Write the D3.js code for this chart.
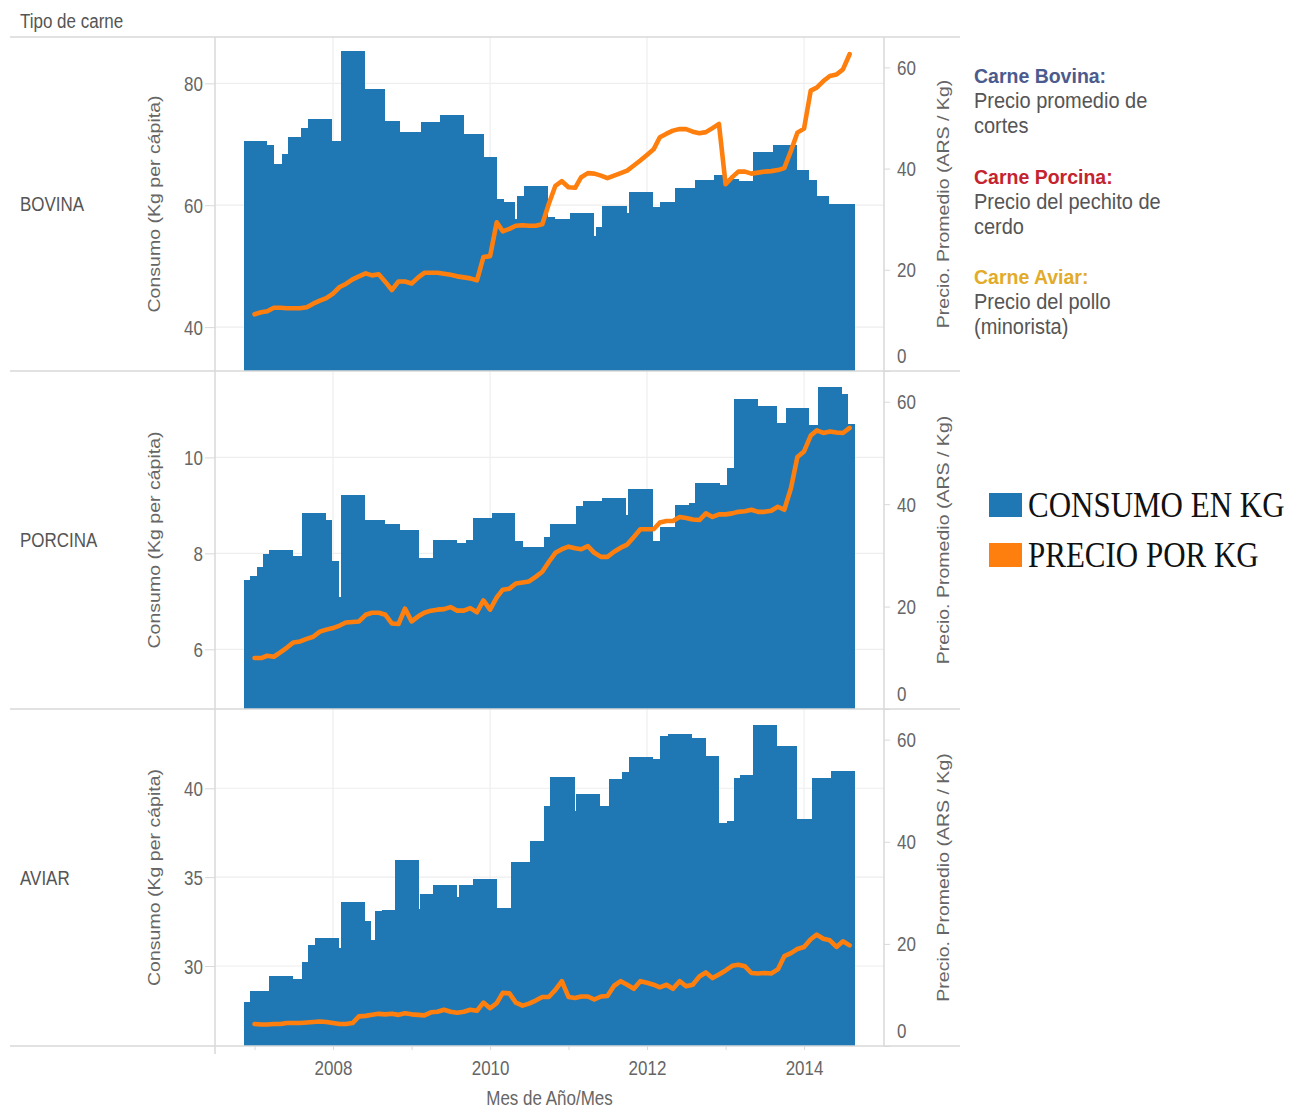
<!DOCTYPE html>
<html><head><meta charset="utf-8">
<script src="https://cdn.jsdelivr.net/npm/d3@7"></script>
<style>
body{margin:0;background:#fff}
text{font-family:"Liberation Sans",Arial,sans-serif}
text.serif{font-family:"Liberation Serif","Times New Roman",serif}
</style>
</head><body>
<svg id="c" width="1303" height="1108"></svg>
<script>
// ---------------- DATA ----------------
const categorias = ["BOVINA", "PORCINA", "AVIAR"];

// consumption (Kg per cápita): each bar starts at its date and lasts until the next one
const bovinaInicio = ["2006-11-11","2007-03-01","2007-04-03","2007-05-09","2007-06-08","2007-08-07","2007-09-09","2007-12-29","2008-02-08","2008-05-28","2008-08-29","2008-11-08","2009-02-12","2009-05-13","2009-09-03","2009-12-04","2010-02-02","2010-03-05","2010-04-29","2010-05-08","2010-06-09","2010-09-29","2010-11-01","2011-01-07","2011-04-28","2011-05-07","2011-06-06","2011-09-29","2011-10-08","2012-01-27","2012-03-03","2012-05-11","2012-08-12","2012-11-09","2013-01-04","2013-03-02","2013-05-07","2013-08-08","2013-11-28","2014-01-26","2014-02-28","2014-04-27"];
const bovinaConsumo = [70.6,69.8,66.8,68.4,71.2,72.7,74.2,70.5,85.3,79.0,73.9,72.0,73.6,74.8,71.7,67.9,61.0,60.6,57.8,61.5,63.1,58.0,57.8,58.7,55.0,56.5,59.9,58.7,62.2,59.7,60.6,62.8,64.1,65.0,64.3,64.0,68.8,69.8,65.7,64.1,61.5,60.2];

const porcinaInicio = ["2006-11-11","2006-12-10","2007-01-11","2007-02-10","2007-03-11","2007-06-30","2007-08-10","2007-11-29","2007-12-29","2008-01-30","2008-02-08","2008-05-28","2008-08-29","2008-11-06","2009-02-03","2009-04-12","2009-08-02","2009-09-12","2009-10-13","2010-01-10","2010-04-29","2010-06-02","2010-09-07","2010-10-09","2011-02-06","2011-03-09","2011-06-06","2011-09-25","2011-10-04","2012-01-27","2012-03-03","2012-05-11","2012-07-13","2012-08-12","2012-12-06","2013-01-07","2013-02-10","2013-05-30","2013-08-27","2013-10-08","2014-01-26","2014-03-06","2014-06-25","2014-07-24"];
const porcinaConsumo = [7.44,7.53,7.72,7.98,8.08,7.94,8.85,8.69,7.85,7.08,9.21,8.69,8.62,8.49,7.90,8.28,8.21,8.28,8.74,8.85,8.26,8.14,8.35,8.62,8.99,9.10,9.15,8.79,9.34,8.26,8.55,9.01,9.05,9.46,9.43,9.78,11.21,11.07,10.72,11.02,10.67,11.47,11.32,10.70];

const aviarInicio = ["2006-11-11","2006-12-10","2007-03-11","2007-06-30","2007-08-10","2007-09-09","2007-10-07","2008-01-30","2008-02-08","2008-05-28","2008-06-27","2008-07-13","2008-08-14","2008-10-14","2009-02-03","2009-02-08","2009-04-12","2009-08-02","2009-08-11","2009-10-13","2010-02-02","2010-04-08","2010-07-08","2010-09-07","2010-10-09","2011-01-29","2011-02-06","2011-05-27","2011-07-07","2011-09-07","2011-10-08","2012-01-27","2012-03-03","2012-04-10","2012-07-29","2012-10-03","2012-12-01","2013-01-09","2013-02-10","2013-03-07","2013-05-07","2013-08-27","2013-11-28","2014-02-05","2014-05-06"];
const aviarConsumo = [27.96,28.61,29.45,29.27,30.24,31.20,31.56,31.0,33.62,32.55,31.46,33.08,33.17,35.98,33.2,34.03,34.58,33.9,34.58,34.90,33.26,35.87,37.05,39.02,40.65,38.7,39.66,39.02,40.52,40.90,41.74,41.65,42.96,43.06,42.83,41.83,38.05,38.14,40.56,40.77,43.58,42.40,38.27,40.56,40.99];

const consumoFin = "2014-08-25";

// monthly price (ARS / Kg), January 2007 .. August 2014
const precioInicio = "2007-01-01";
const bovinaPrecio = [11.2,11.6,11.8,12.5,12.5,12.4,12.4,12.4,12.6,13.3,13.9,14.4, 15.3,16.6,17.2,18.1,18.7,19.3,18.9,19.1,17.6,16.0,17.7,17.7, 17.3,18.5,19.4,19.4,19.4,19.2,19.0,18.7,18.5,18.3,17.9,22.5, 22.7,29.4,27.6,28.1,28.7,28.8,28.7,28.7,29.0,33.0,36.6,37.5, 36.3,36.2,38.3,39.1,39.0,38.6,38.1,38.6,39.1,39.6,40.6,41.6, 42.7,43.8,46.2,46.9,47.5,47.8,47.8,47.3,47.0,47.2,48.0,48.8, 36.9,38.3,39.4,39.4,39.0,39.2,39.4,39.5,39.7,40.1,43.5,47.1, 47.9,55.4,56.0,57.3,58.3,58.6,59.6,62.6];
const porcinaPrecio = [9.95,9.95,10.4,10.2,11.05,12.0,13.0,13.2,13.7,14.1,15.1,15.5, 15.8,16.3,16.9,17.0,17.1,18.4,18.8,18.8,18.4,16.7,16.6,19.6, 17.1,18.1,18.8,19.2,19.4,19.5,19.9,19.2,19.2,19.7,18.9,21.2, 19.4,21.8,23.3,23.5,24.5,24.7,24.9,25.8,26.8,28.7,30.5,31.2, 31.7,31.4,31.2,31.8,30.5,29.7,29.7,30.7,31.5,32.1,33.6,35.1, 35.1,35.1,36.4,36.7,36.7,37.5,37.3,37.0,36.9,38.2,37.5,38.0, 38.0,38.2,38.5,38.6,38.9,38.5,38.5,38.7,39.5,38.9,43.1,49.2, 50.3,53.4,54.4,53.9,54.2,54.0,53.9,54.9];
const aviarPrecio = [4.3,4.2,4.2,4.3,4.3,4.5,4.5,4.5,4.6,4.7,4.8,4.7, 4.5,4.3,4.3,4.5,5.8,5.9,6.1,6.3,6.2,6.3,6.1,6.4, 6.2,6.1,6.0,6.6,6.7,7.1,6.7,6.5,6.7,7.1,6.9,8.5, 7.4,8.4,10.4,10.3,8.5,7.9,8.3,8.9,9.6,9.6,11.0,12.7, 9.6,9.4,9.7,9.7,9.1,9.7,9.8,11.8,12.7,12.0,11.2,12.7, 12.4,12.0,11.5,12.0,11.2,12.7,11.7,12.0,13.6,14.4,13.3,14.0, 14.8,15.7,15.9,15.6,14.3,14.2,14.3,14.2,15.0,17.6,18.2,19.0, 19.4,20.9,21.8,21.0,20.7,19.4,20.5,19.7];

// tick labels
const bovinaTicks = [40, 60, 80];
const porcinaTicks = [6, 8, 10];
const aviarTicks = [30, 35, 40];
const precioTicks = [0, 20, 40, 60];
const anioTicks = [2007, 2008, 2009, 2010, 2011, 2012, 2013, 2014];

const leyendaTitulos = ["Carne Bovina:", "Carne Porcina:", "Carne Aviar:"];
const leyendaTextos = [["Precio promedio de", "cortes"], ["Precio del pechito de", "cerdo"], ["Precio del pollo", "(minorista)"]];
const leyendaMedidas = ["CONSUMO EN KG", "PRECIO POR KG"];

// ---------------- LAYOUT / STYLE ----------------
const C_BAR = "#1f77b4", C_LINE = "#ff7f0e";
const C_GRID = "#eeeeee", C_RULE = "#d9d9d9", C_TXT = "#666666";
const SY = 1.15; // vertical stretch of the reference text
const plotL = 215, plotR = 884;
const panelTop = [37, 371, 709], panelBot = [371, 709, 1046];
const leftDomains = [[32.8, 87.6], [4.756, 11.80], [25.5, 44.46]];
const leyendaColores = ["#4b5b8e", "#c4242f", "#e2ab2a"];

const parse = d3.timeParse("%Y-%m-%d");
const svg = d3.select("#c");
const x = d3.scaleTime().domain([new Date(2006, 6, 1), new Date(2015, 0, 8)]).range([plotL, plotR]);

const panels = [
  {ini: bovinaInicio, cons: bovinaConsumo, prec: bovinaPrecio, ticks: bovinaTicks},
  {ini: porcinaInicio, cons: porcinaConsumo, prec: porcinaPrecio, ticks: porcinaTicks},
  {ini: aviarInicio, cons: aviarConsumo, prec: aviarPrecio, ticks: aviarTicks}
];

// header
svg.append("text").attr("transform", `translate(20,28) scale(1,${SY})`)
  .attr("font-size", 17).attr("fill", "#555").text("Tipo de carne");

const gridYears = anioTicks.filter(a => a % 2 === 0).map(a => new Date(a, 0, 1));

panels.forEach((p, k) => {
  const top = panelTop[k], bot = panelBot[k], mid = (top + bot) / 2;
  const yL = d3.scaleLinear().domain(leftDomains[k]).range([bot, top]);
  const yR = d3.scaleLinear().domain([0, 66]).range([bot, top]);
  const g = svg.append("g");

  // gridlines
  g.selectAll(".gh").data(p.ticks).join("line")
    .attr("x1", plotL).attr("x2", plotR).attr("y1", d => yL(d)).attr("y2", d => yL(d))
    .attr("stroke", C_GRID).attr("stroke-width", 1.2);
  g.selectAll(".gv").data(gridYears).join("line")
    .attr("x1", d => x(d)).attr("x2", d => x(d)).attr("y1", top).attr("y2", bot)
    .attr("stroke", C_GRID).attr("stroke-width", 1.2);

  // bars
  const starts = p.ini.map(parse);
  const ends = starts.slice(1).concat([parse(consumoFin)]);
  g.selectAll("rect.bar").data(p.cons).join("rect").attr("class", "bar")
    .attr("x", (d, i) => x(starts[i]))
    .attr("width", (d, i) => x(ends[i]) - x(starts[i]))
    .attr("y", d => yL(d)).attr("height", d => bot - yL(d))
    .attr("fill", C_BAR).attr("shape-rendering", "crispEdges");

  // price line
  const m0 = parse(precioInicio);
  const meses = p.prec.map((v, i) => d3.timeMonth.offset(m0, i));
  const line = d3.line().x((d, i) => x(meses[i])).y(d => yR(d));
  g.append("path").datum(p.prec).attr("d", line).attr("fill", "none")
    .attr("stroke", C_LINE).attr("stroke-width", 4.6)
    .attr("stroke-linejoin", "round").attr("stroke-linecap", "round");

  // left axis
  const axL = svg.append("g").attr("transform", `translate(${plotL},0)`)
    .call(d3.axisLeft(yL).tickValues(p.ticks).tickSize(10).tickFormat(d3.format("d")));
  axL.select(".domain").remove();
  axL.selectAll(".tick line").attr("stroke", C_RULE);
  axL.selectAll(".tick text").attr("x", null).attr("dy", null)
    .attr("transform", `translate(-12,7) scale(1,${SY})`)
    .attr("font-size", 17).attr("fill", C_TXT);

  // right axis
  const axR = svg.append("g").attr("transform", `translate(${plotR},0)`)
    .call(d3.axisRight(yR).tickValues(precioTicks).tickSize(6).tickFormat(d3.format("d")));
  axR.select(".domain").remove();
  axR.selectAll(".tick line").attr("stroke", C_RULE);
  axR.selectAll(".tick text").attr("x", null).attr("dy", null)
    .attr("transform", d => `translate(13,${d === 0 ? -9 : 7}) scale(1,${SY})`)
    .attr("font-size", 17).attr("fill", C_TXT);

  // row label
  svg.append("text").attr("transform", `translate(20,${mid + 7}) scale(1,${SY})`)
    .attr("font-size", 17).attr("fill", "#555").text(categorias[k]);

  // axis titles
  svg.append("text").attr("transform", `translate(160,${mid}) scale(1,${SY}) rotate(-90)`)
    .attr("text-anchor", "middle").attr("font-size", 17).attr("fill", C_TXT)
    .text("Consumo (Kg per cápita)");
  svg.append("text").attr("transform", `translate(949,${mid}) scale(1,${SY}) rotate(-90)`)
    .attr("text-anchor", "middle").attr("font-size", 17).attr("fill", C_TXT)
    .text("Precio. Promedio (ARS / Kg)");
});

// frame rules
const rules = svg.append("g").attr("stroke", C_RULE).attr("stroke-width", 1.5);
[37, 371, 709, 1046].forEach(yy => rules.append("line").attr("x1", 10).attr("x2", 960).attr("y1", yy).attr("y2", yy));
rules.append("line").attr("x1", plotL).attr("x2", plotL).attr("y1", 37).attr("y2", 1054);
rules.append("line").attr("x1", plotR).attr("x2", plotR).attr("y1", 37).attr("y2", 1046);

// bottom axis
const axB = svg.append("g").attr("transform", "translate(0,1046)")
  .call(d3.axisBottom(x).tickValues(anioTicks.map(a => new Date(a, 0, 1))).tickSize(4)
    .tickFormat(d => d.getFullYear() % 2 === 0 ? String(d.getFullYear()) : ""));
axB.select(".domain").remove();
axB.selectAll(".tick line").attr("stroke", C_RULE);
axB.selectAll(".tick text").attr("y", null).attr("dy", null)
  .attr("transform", `translate(0,29) scale(1,${SY})`)
  .attr("font-size", 17).attr("fill", C_TXT);
svg.append("text").attr("transform", `translate(${(plotL + plotR) / 2},1105) scale(1,${SY})`)
  .attr("text-anchor", "middle").attr("font-size", 17).attr("fill", C_TXT).text("Mes de Año/Mes");

// text legend
const legBase = [83, 184, 284];
leyendaTitulos.forEach((t, i) => {
  svg.append("text").attr("transform", `translate(974,${legBase[i]}) scale(1,1.08)`)
    .attr("font-size", 19.5).attr("font-weight", "bold").attr("fill", leyendaColores[i]).text(t);
  leyendaTextos[i].forEach((s, j) => {
    svg.append("text").attr("transform", `translate(974,${legBase[i] + 25 * (j + 1)}) scale(1,1.08)`)
      .attr("font-size", 20).attr("fill", "#555").text(s);
  });
});

// colour legend
const legY = [493, 543];
const legCol = [C_BAR, C_LINE];
leyendaMedidas.forEach((t, i) => {
  svg.append("rect").attr("x", 989).attr("y", legY[i]).attr("width", 33).attr("height", 24).attr("fill", legCol[i]);
  svg.append("text").attr("class", "serif").attr("transform", `translate(1028,${legY[i] + 24}) scale(1,1.15)`)
    .attr("font-size", 31).attr("fill", "#111").text(t);
});
</script>
</body></html>
